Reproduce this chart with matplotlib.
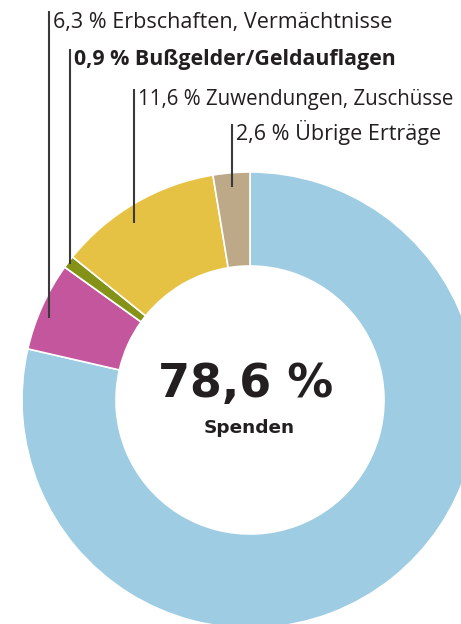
import matplotlib
matplotlib.use("Agg")
import matplotlib.pyplot as plt

categories = ["Spenden", "Erbschaften, Vermächtnisse", "Bußgelder/Geldauflagen",
              "Zuwendungen, Zuschüsse", "Übrige Erträge"]
values = [78.6, 6.3, 0.9, 11.6, 2.6]
value_labels = ["78,6 %", "6,3 %", "0,9 %", "11,6 %", "2,6 %"]
colors = ["#9ecce3", "#c4569e", "#849318", "#e6c244", "#bda888"]

W, H = 461, 624
fig = plt.figure(figsize=(W / 100, H / 100), dpi=100)
ax = fig.add_axes([0, 0, 1, 1])

cx, cy = 250, H - 400
R = 228
ring = 94
ax.pie(values, colors=colors, startangle=90, counterclock=False, center=(cx, cy),
       radius=R, wedgeprops=dict(width=ring, edgecolor="white", linewidth=1.2),
       frame=True)
ax.set_xlim(0, W)
ax.set_ylim(0, H)
ax.set_aspect("equal")
ax.axis("off")

ax.text(cx - 4, H - 397, value_labels[0], ha="center", va="baseline", fontsize=33,
        fontweight="bold", family="DejaVu Sans", color="#231f20")
ax.text(cx - 1, H - 433, categories[0], ha="center", va="baseline", fontsize=13.3,
        fontweight="bold", family="DejaVu Sans", color="#231f20")

font = "Open Sans"
# (index, line x, line top, line bottom, text baseline, weight, size) in pixels from top
leaders = [
    (1, 49, 11, 318, 28, "normal", 15.5),
    (2, 70, 49, 264, 65, "bold", 15.4),
    (3, 134, 89, 223, 105, "normal", 14.8),
    (4, 232, 124, 187, 140, "normal", 15.5),
]
for idx, lx, ytop, ybot, ty, weight, fs in leaders:
    ax.plot([lx, lx], [H - ytop, H - ybot], color="#3a3a3a", lw=1.5,
            solid_capstyle="butt")
    ax.text(lx + 4, H - ty, f"{value_labels[idx]} {categories[idx]}", ha="left",
            va="baseline", fontsize=fs, fontweight=weight, family=font,
            color="#231f20")

fig.savefig("out.png", dpi=100)
